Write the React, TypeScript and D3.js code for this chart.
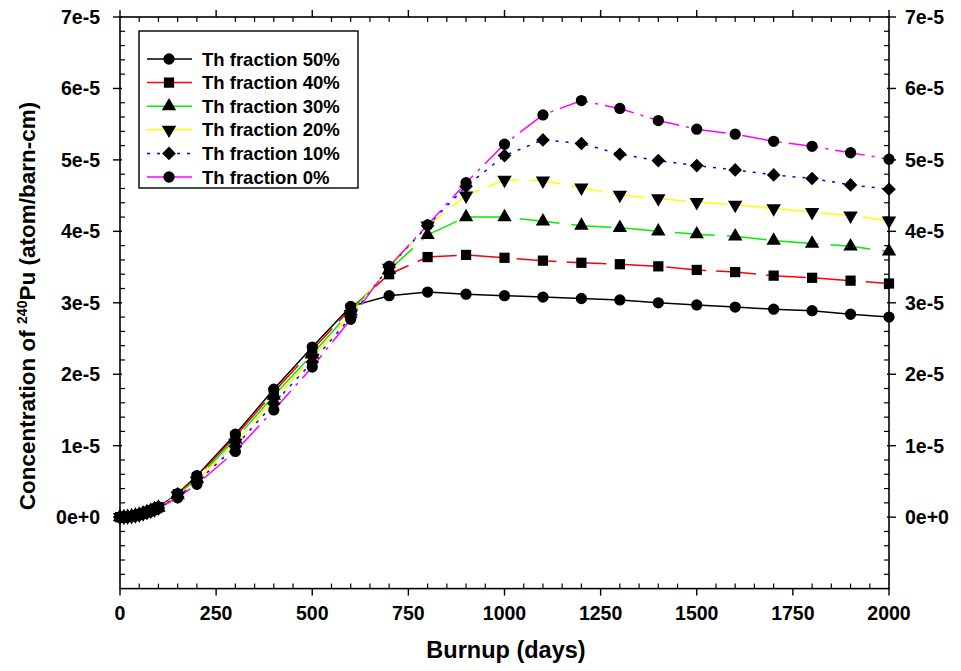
import React from "react";
import * as d3 from "d3";

// Burnup (days)
const days = [0, 10, 20, 30, 40, 50, 60, 70, 80, 90, 100, 150, 200, 300, 400, 500, 600, 700, 800, 900, 1000, 1100, 1200, 1300, 1400, 1500, 1600, 1700, 1800, 1900, 2000];

// 240Pu concentration, in units of 1e-6 atom/barn-cm
const th50 = [0, 0.02, 0.07, 0.15, 0.26, 0.40, 0.56, 0.74, 0.95, 1.18, 1.42, 3.3, 5.8, 11.6, 17.9, 23.8, 29.5, 31.0, 31.5, 31.2, 31.0, 30.8, 30.6, 30.4, 30.0, 29.7, 29.4, 29.1, 28.9, 28.4, 28.0];
const th40 = [0, 0.02, 0.07, 0.15, 0.25, 0.39, 0.55, 0.73, 0.93, 1.15, 1.39, 3.2, 5.6, 11.3, 17.5, 23.4, 29.2, 34.0, 36.4, 36.7, 36.3, 35.9, 35.6, 35.4, 35.1, 34.6, 34.3, 33.8, 33.5, 33.1, 32.7];
const th30 = [0, 0.02, 0.06, 0.14, 0.24, 0.37, 0.53, 0.70, 0.90, 1.12, 1.35, 3.1, 5.4, 10.9, 17.0, 22.8, 28.8, 34.6, 39.5, 42.0, 42.0, 41.4, 40.8, 40.5, 40.0, 39.6, 39.3, 38.7, 38.3, 37.9, 37.2];
const th20 = [0, 0.02, 0.06, 0.13, 0.23, 0.36, 0.51, 0.68, 0.87, 1.09, 1.32, 3.0, 5.1, 10.4, 16.4, 22.3, 28.4, 34.9, 40.8, 45.0, 47.2, 47.1, 46.1, 45.1, 44.6, 44.1, 43.7, 43.2, 42.7, 42.2, 41.5];
const th10 = [0, 0.02, 0.06, 0.13, 0.22, 0.35, 0.50, 0.66, 0.85, 1.06, 1.29, 2.9, 4.9, 9.9, 15.9, 21.7, 28.0, 35.0, 40.8, 46.3, 50.6, 52.8, 52.3, 50.8, 49.9, 49.2, 48.6, 47.9, 47.4, 46.5, 45.9];
const th0 = [0, 0.02, 0.05, 0.12, 0.21, 0.34, 0.48, 0.64, 0.83, 1.03, 1.26, 2.7, 4.6, 9.2, 15.0, 21.0, 27.7, 35.1, 40.9, 46.8, 52.2, 56.3, 58.3, 57.2, 55.5, 54.3, 53.6, 52.6, 51.9, 51.0, 50.1];

const seriesNames = ["Th fraction 50%", "Th fraction 40%", "Th fraction 30%", "Th fraction 20%", "Th fraction 10%", "Th fraction 0%"];
const seriesValues = [th50, th40, th30, th20, th10, th0];
const seriesColors = ["#000000", "#ff0000", "#00ee00", "#ffff00", "#0000ff", "#ff00ff"];
const seriesDash = ["none", "40,10", "40,12", "32,10", "3,7", "30,7,3,7"];
const seriesMarker = ["circle", "square", "triangle", "triangleDown", "diamond", "circle"];

const xTicks = [0, 250, 500, 750, 1000, 1250, 1500, 1750, 2000];
const yTickLabels = ["0e+0", "1e-5", "2e-5", "3e-5", "4e-5", "5e-5", "6e-5", "7e-5"];
const UNIT = 1e-6;

const W = 961, H = 671;
const L = 120, R = 889, T = 17, B = 588.6;
const FONT = "'Liberation Sans', Arial, sans-serif";

function markerPath(kind: string): string {
  switch (kind) {
    case "circle": return d3.symbol(d3.symbolCircle, 100)()!;
    case "square": return d3.symbol(d3.symbolSquare, 105)()!;
    case "triangle": return d3.symbol(d3.symbolTriangle, 90)()!;
    case "triangleDown": return d3.symbol(d3.symbolTriangle, 90)()!;
    default: return d3.symbol(d3.symbolCircle, 100)()!;
  }
}

function Marker({ kind, x, y }: { kind: string; x: number; y: number }) {
  if (kind === "diamond") {
    const s = 6.8;
    return <path d={`M0,${-s}L${s},0L0,${s}L${-s},0Z`} transform={`translate(${x},${y})`} fill="#000" />;
  }
  const rot = kind === "triangleDown" ? 180 : 0;
  return <path d={markerPath(kind)} transform={`translate(${x},${y}) rotate(${rot})`} fill="#000" />;
}

export default function App() {
  const x = d3.scaleLinear().domain([0, 2000]).range([L, R]);
  const y = d3.scaleLinear().domain([-10e-6, 70e-6]).range([B, T]);
  const line = d3.line<[number, number]>().x((d) => x(d[0])).y((d) => y(d[1] * UNIT));

  const xMinor = d3.range(0, 2001, 50).filter((v) => v % 250 !== 0);
  const yMajor = d3.range(0, 8).map((i) => i * 1e-5);
  const yMinor = d3.range(-10, 71, 2).filter((v) => v % 10 !== 0).map((v) => v * 1e-6);

  const legX = 139, legY = 31, legW = 219, legH = 157;
  const rowY0 = 59, rowStep = 23.6;

  return (
    <svg width={W} height={H} style={{ position: "absolute", left: 0, top: 0, background: "#fff" }} fontFamily={FONT}>
      <rect x={0} y={0} width={W} height={H} fill="#fff" />
      {/* frame */}
      <rect x={L} y={T} width={R - L} height={B - T} fill="none" stroke="#000" strokeWidth={1.6} />
      {/* x ticks bottom & top */}
      {xTicks.map((t) => (
        <g key={"xt" + t}>
          <line x1={x(t)} x2={x(t)} y1={B} y2={B + 7} stroke="#000" strokeWidth={1.4} />
          <line x1={x(t)} x2={x(t)} y1={T} y2={T - 7} stroke="#000" strokeWidth={1.4} />
          <text x={x(t)} y={620} textAnchor="middle" fontSize={19.5} fontWeight="bold">{t}</text>
        </g>
      ))}
      {xMinor.map((t) => (
        <g key={"xm" + t}>
          <line x1={x(t)} x2={x(t)} y1={B} y2={B - 5} stroke="#000" strokeWidth={1.2} />
          <line x1={x(t)} x2={x(t)} y1={T} y2={T + 5} stroke="#000" strokeWidth={1.2} />
        </g>
      ))}
      {/* y ticks left & right */}
      {yMajor.map((t, i) => (
        <g key={"yt" + i}>
          <line x1={L - 7} x2={L + 2} y1={y(t)} y2={y(t)} stroke="#000" strokeWidth={1.4} />
          <line x1={R - 2} x2={R + 7} y1={y(t)} y2={y(t)} stroke="#000" strokeWidth={1.4} />
          <text x={100} y={y(t)} dy="0.35em" textAnchor="end" fontSize={19.5} fontWeight="bold">{yTickLabels[i]}</text>
          <text x={905} y={y(t)} dy="0.35em" textAnchor="start" fontSize={19.5} fontWeight="bold">{yTickLabels[i]}</text>
        </g>
      ))}
      {yMinor.map((t, i) => (
        <g key={"ym" + i}>
          <line x1={L} x2={L + 5} y1={y(t)} y2={y(t)} stroke="#000" strokeWidth={1.2} />
          <line x1={R} x2={R - 5} y1={y(t)} y2={y(t)} stroke="#000" strokeWidth={1.2} />
        </g>
      ))}
      {/* lines */}
      {seriesValues.map((vals, si) => (
        <path
          key={"l" + si}
          d={line(days.map((d, i) => [d, vals[i]]))!}
          fill="none"
          stroke={seriesColors[si]}
          strokeWidth={1.5}
          strokeDasharray={seriesDash[si]}
        />
      ))}
      {/* markers */}
      {seriesValues.map((vals, si) => (
        <g key={"m" + si}>
          {days.map((d, i) => (
            <Marker key={i} kind={seriesMarker[si]} x={x(d)} y={y(vals[i] * UNIT)} />
          ))}
        </g>
      ))}
      {/* legend */}
      <rect x={legX} y={legY} width={legW} height={legH} fill="#fff" stroke="#000" strokeWidth={1.4} />
      {seriesNames.map((name, si) => {
        const ry = rowY0 + si * rowStep;
        return (
          <g key={"lg" + si}>
            <line x1={147} x2={192} y1={ry} y2={ry} stroke={seriesColors[si]} strokeWidth={1.5} strokeDasharray={si === 4 ? "3,7" : "none"} />
            <Marker kind={seriesMarker[si]} x={169} y={ry} />
            <text x={202} y={ry} dy="0.36em" fontSize={18.5} fontWeight="bold">{name}</text>
          </g>
        );
      })}
      {/* axis titles */}
      <text x={506} y={658} textAnchor="middle" fontSize={23.5} fontWeight="bold">Burnup (days)</text>
      <text transform="translate(35,306) rotate(-90)" textAnchor="middle" fontSize={22.5} fontWeight="bold">
        Concentration of <tspan dy={-8} fontSize={14}>240</tspan><tspan dy={8}>Pu (atom/barn-cm)</tspan>
      </text>
    </svg>
  );
}
